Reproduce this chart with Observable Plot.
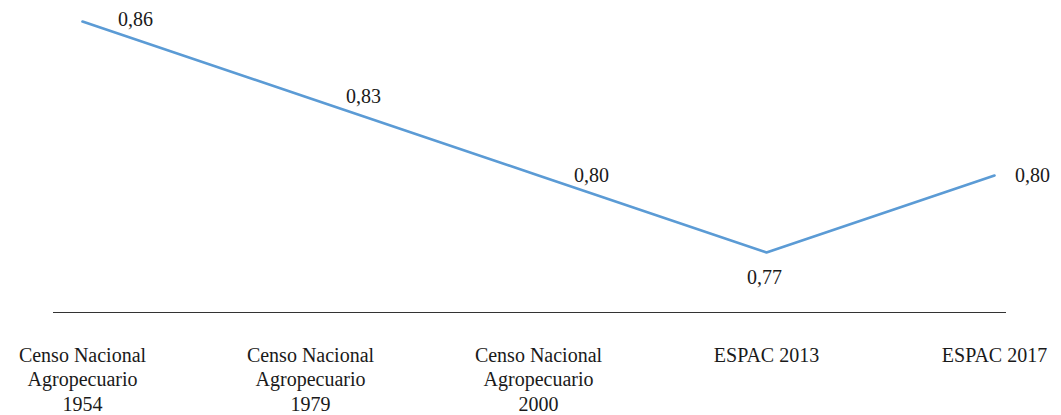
<!DOCTYPE html>
<html>
<head>
<meta charset="utf-8">
<script src="https://cdn.jsdelivr.net/npm/d3@7"></script>
<script src="https://cdn.jsdelivr.net/npm/@observablehq/plot@0.6"></script>
<style>
  html, body { margin: 0; padding: 0; background: #fff; }
  #chart svg { display: block; }
</style>
</head>
<body>
<div id="chart"></div>
<script>
const categories = [
  "Censo Nacional\nAgropecuario\n1954",
  "Censo Nacional\nAgropecuario\n1979",
  "Censo Nacional\nAgropecuario\n2000",
  "ESPAC 2013",
  "ESPAC 2017"
];
const values = [0.86, 0.83, 0.80, 0.77, 0.80];
const valueLabels = ["0,86", "0,83", "0,80", "0,77", "0,80"];

const data = categories.map((c, i) => ({cat: c, v: values[i], label: valueLabels[i]}));

const font = "Liberation Serif";
const fs = 20;

const labelMark = (i, dx, dy) => Plot.text([data[i]], {
  x: "cat", y: "v", text: "label", dx, dy,
  fontSize: fs, fontFamily: font, fill: "#1a1a1a"
});

const chart = Plot.plot({
  width: 1061,
  height: 415,
  marginTop: 21,
  marginBottom: 103,
  marginLeft: 53,
  marginRight: 55,
  style: {fontFamily: font, background: "#fff"},
  x: {type: "point", domain: categories, padding: 0, insetLeft: 27, insetRight: 11, label: null},
  y: {domain: [0.7466, 0.86], axis: null},
  marks: [
    Plot.ruleY([0.7466], {stroke: "#333", strokeWidth: 1}),
    Plot.line(data, {x: "cat", y: "v", stroke: "#5B9BD5", strokeWidth: 2.6}),
    labelMark(0, 53, -2),
    labelMark(1, 53, -2),
    labelMark(2, 53, 0),
    labelMark(3, -2, 25),
    labelMark(4, 38, 0),
    Plot.axisX({
      tickSize: 0, tickPadding: 32, fontSize: fs, fontFamily: font,
      lineHeight: 1.225, fill: "#1a1a1a", label: null
    })
  ]
});
document.getElementById("chart").appendChild(chart);
</script>
</body>
</html>
